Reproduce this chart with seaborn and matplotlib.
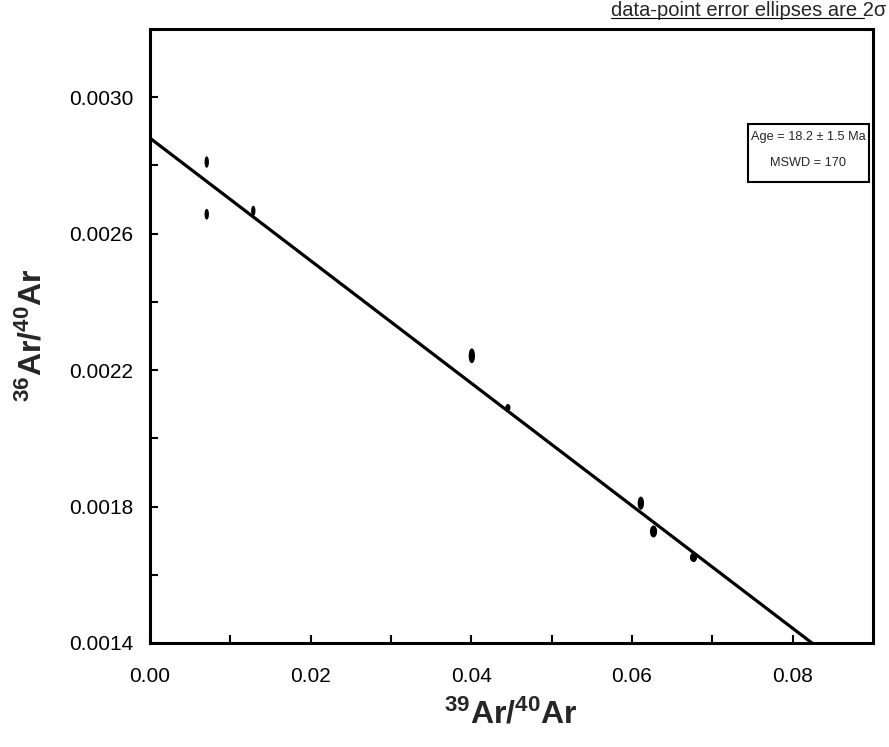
import numpy as np
import pandas as pd
import matplotlib
matplotlib.use("Agg")
import matplotlib.pyplot as plt
from matplotlib.patches import Ellipse, Rectangle
from matplotlib.lines import Line2D
from matplotlib.ticker import FixedLocator, FormatStrFormatter
import seaborn as sns

# Inverse isochron data: 39Ar/40Ar vs 36Ar/40Ar with 2-sigma ellipse extents
ar39_ar40 = [0.00706, 0.00706, 0.01286, 0.04006, 0.04455, 0.06110, 0.06268, 0.06766]
ar36_ar40 = [0.002810, 0.002657, 0.002667, 0.002242, 0.002090, 0.001810, 0.001727, 0.001651]
ell_width = [0.00040, 0.00040, 0.00040, 0.00065, 0.00050, 0.00065, 0.00075, 0.00075]
ell_height = [0.000030, 0.000028, 0.000026, 0.000040, 0.000018, 0.000035, 0.000032, 0.000024]

# Regression line end points
fit_x = [0.0, 0.0824]
fit_y = [0.00288, 0.00140]

x_major = [0.00, 0.02, 0.04, 0.06, 0.08]
x_minor = [0.01, 0.03, 0.05, 0.07]
y_major = [0.0014, 0.0018, 0.0022, 0.0026, 0.0030]
y_minor = [0.0016, 0.0020, 0.0024, 0.0028]

age_text = "Age = 18.2 \u00b1 1.5 Ma"
mswd_text = "MSWD = 170"
note_text = "data-point error ellipses are 2\u03c3"

sns.set_style("white")
plt.rcParams["font.family"] = ["Liberation Sans", "DejaVu Sans"]
plt.rcParams["mathtext.fontset"] = "custom"
plt.rcParams["mathtext.rm"] = "Liberation Sans:bold"
plt.rcParams["mathtext.bf"] = "Liberation Sans:bold"
plt.rcParams["mathtext.default"] = "rm"

W, H = 889, 747
fig = plt.figure(figsize=(W / 100, H / 100), dpi=100)
ax = fig.add_axes([150 / W, 1 - 643 / H, 723 / W, 614 / H])

df = pd.DataFrame({"x": ar39_ar40, "y": ar36_ar40, "w": ell_width, "h": ell_height})
for _, r in df.iterrows():
    ax.add_patch(Ellipse((r["x"], r["y"]), r["w"], r["h"], facecolor="black",
                         edgecolor="black", lw=0.8, zorder=3))

fit = pd.DataFrame({"x": fit_x, "y": fit_y})
sns.lineplot(data=fit, x="x", y="y", ax=ax, color="black", lw=2.3, zorder=4)

ax.set_xlim(0.0, 0.09)
ax.set_ylim(0.0014, 0.0032)
ax.xaxis.set_major_locator(FixedLocator(x_major))
ax.xaxis.set_minor_locator(FixedLocator(x_minor))
ax.yaxis.set_major_locator(FixedLocator(y_major))
ax.yaxis.set_minor_locator(FixedLocator(y_minor))
ax.xaxis.set_major_formatter(FormatStrFormatter("%.2f"))
ax.yaxis.set_major_formatter(FormatStrFormatter("%.4f"))
ax.tick_params(which="both", direction="in", length=6, width=1.5, top=False, right=False,
               left=True, bottom=True, labelsize=15, color="black", labelcolor="black")
ax.tick_params(axis="x", which="major", pad=17)
ax.tick_params(axis="y", which="major", pad=12)
for s in ax.spines.values():
    s.set_linewidth(2.2)
    s.set_color("black")
    s.set_visible(True)
ax.set_xlabel("")
ax.set_ylabel("")

# Axis titles
fig.text(511 / W, 1 - 715 / H, r"$^{39}$Ar/$^{40}$Ar", fontsize=23, fontweight="bold",
         ha="center", va="center")
fig.text(33 / W, 1 - 335 / H, r"$^{36}$Ar/$^{40}$Ar", fontsize=23, fontweight="bold",
         ha="center", va="center", rotation=90)

# Result box
fig.add_artist(Rectangle((748 / W, 1 - 182 / H), 121 / W, 58 / H, transform=fig.transFigure,
                         facecolor="white", edgecolor="black", lw=1.5, zorder=5))
fig.text(808.5 / W, 1 - 137 / H, age_text, fontsize=9.2, ha="center", va="center", zorder=6)
fig.text(808.5 / W, 1 - 163 / H, mswd_text, fontsize=9.2, ha="center", va="center", zorder=6)

# Note at the top, underlined up to the sigma sign
fig.text(886 / W, 1 - 16 / H, note_text, ha="right", va="baseline", fontsize=14.5)
fig.add_artist(Line2D([611 / W, 864 / W], [1 - 18 / H, 1 - 18 / H], transform=fig.transFigure,
                      color="black", lw=0.8))

fig.savefig("out.png", dpi=100)
